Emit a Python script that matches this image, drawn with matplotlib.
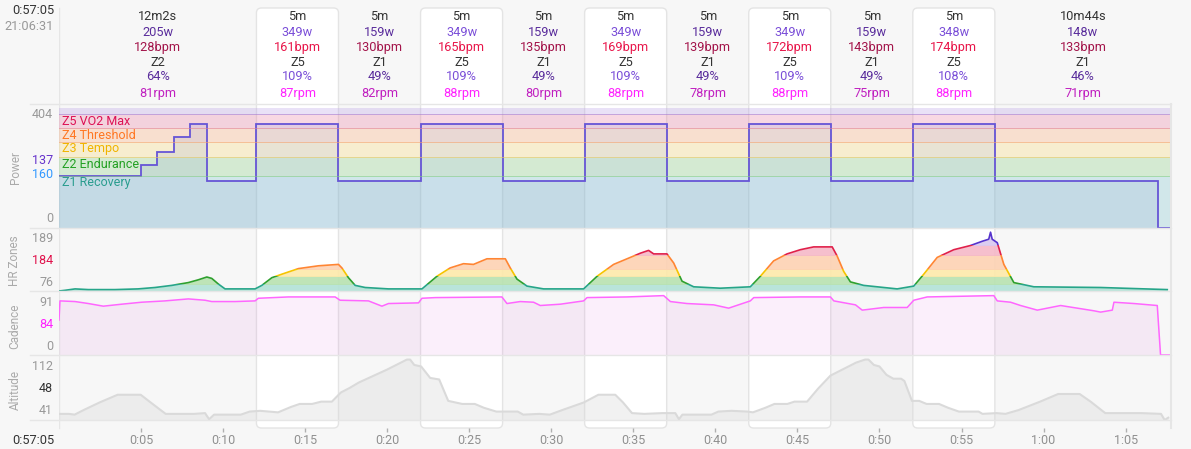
import matplotlib.pyplot as plt
import numpy as np
from matplotlib.patches import FancyBboxPatch, Rectangle
from matplotlib.lines import Line2D
from matplotlib.transforms import blended_transform_factory

plt.rcParams['font.family'] = ['Roboto', 'DejaVu Sans']

# interval summary (top text rows), times in minutes
seg_edges = [0, 12.033, 17.033, 22.033, 27.033, 32.033, 37.033, 42.033, 47.033, 52.033, 57.033, 67.767]
is_work = [False, True, False, True, False, True, False, True, False, True, False]
durations = ['12m2s', '5m', '5m', '5m', '5m', '5m', '5m', '5m', '5m', '5m', '10m44s']
avg_watts = [205, 349, 159, 349, 159, 349, 159, 349, 159, 348, 148]
avg_bpm = [128, 161, 130, 165, 135, 169, 139, 172, 143, 174, 133]
zone_names = ['Z2', 'Z5', 'Z1', 'Z5', 'Z1', 'Z5', 'Z1', 'Z5', 'Z1', 'Z5', 'Z1']
ftp_pct = [64, 109, 49, 109, 49, 109, 49, 109, 49, 108, 46]
avg_rpm = [81, 87, 82, 88, 80, 88, 78, 88, 75, 88, 71]

# power (watts), step levels between edges
power_edges = [0, 5, 6, 7, 8, 9, 12.033, 17.033, 22.033, 27.033, 32.033, 37.033,
               42.033, 47.033, 52.033, 57.033, 66.95, 67.767]
power_levels = [175, 212, 257, 307, 350, 159, 350, 159, 350, 159, 350, 159, 350, 159, 350, 158, 0]
power_zone_edges = [0, 176, 240, 288, 336, 384, 404]
power_zone_labels = ['Z1 Recovery', 'Z2 Endurance', 'Z3 Tempo', 'Z4 Threshold', 'Z5 VO2 Max']

# heart rate (bpm)
hr_t = [0.0, 0.37, 0.98, 1.79, 3.41, 4.82, 5.85, 6.87, 7.88, 8.49, 9.01, 9.31, 9.71, 10.12,
        11.95, 12.36, 12.97, 13.58, 14.59, 15.81, 17.03, 17.24, 17.64, 18.05, 18.66, 20.08,
        22.12, 23.03, 23.84, 24.65, 25.26, 26.08, 27.2, 27.5, 27.91, 28.52, 29.53,
        31.97, 32.79, 33.8, 34.82, 35.43, 35.93, 36.24, 37.05, 37.46, 37.97, 38.68, 40.3,
        42.13, 42.74, 43.55, 44.37, 45.18, 45.99, 47.12, 47.42, 47.82, 48.23, 49.04, 51.08,
        52.09, 52.7, 53.52, 54.53, 55.55, 56.26, 56.66, 56.77, 56.87, 57.18, 57.58, 58.19,
        59.41, 63.48, 67.54]
hr_bpm = [100, 101, 103, 102, 102, 103, 105, 108, 112, 116, 120, 118, 110, 103,
          103, 108, 119, 124, 132, 136, 138, 133, 119, 108, 105, 103,
          103, 121, 133, 139, 138, 146, 146, 133, 117, 107, 103,
          103, 121, 138, 148, 154, 158, 153, 153, 140, 114, 106, 104,
          106, 121, 143, 153, 159, 163, 163, 150, 128, 113, 108, 103,
          107, 124, 148, 159, 165, 171, 174, 184, 174, 169, 138, 112,
          106, 105, 102]
hr_zone_edges = [100, 110, 122, 131, 152, 166, 190]

# cadence (rpm)
cad_t = [0.0, 0.06, 0.98, 1.79, 2.7, 3.82, 5.04, 6.46, 7.88, 8.9, 9.31, 10.73, 11.95, 12.15,
         13.98, 16.83, 17.13, 18.86, 19.68, 20.08, 21.91, 22.12, 22.93, 26.99, 27.3, 28.11,
         28.92, 29.33, 30.55, 31.97, 32.18, 34.62, 36.85, 37.26, 38.27, 39.9, 40.81, 42.13,
         42.34, 45.18, 47.01, 47.22, 48.54, 48.95, 50.26, 51.69, 52.09, 52.91, 56.97, 57.18,
         57.99, 58.6, 59.62, 61.04, 63.07, 63.48, 64.19, 64.29, 65.51, 66.93, 67.13, 67.74]
cad_rpm = [53, 82, 81, 78, 74, 77, 80, 82, 85, 83, 81, 81, 82, 86,
           88, 88, 83, 82, 74, 78, 79, 86, 87, 88, 78, 81,
           80, 75, 77, 82, 87, 88, 90, 81, 78, 76, 71, 82,
           87, 88, 88, 82, 76, 68, 72, 72, 83, 88, 90, 82,
           80, 75, 68, 75, 67, 65, 68, 80, 78, 75, 0, 0]

# altitude (m)
alt_t = [0.0, 0.61, 0.95, 1.5, 2.48, 3.57, 4.98, 5.52, 6.07, 6.5, 8.23, 8.9, 9.15, 9.45,
         11.08, 11.62, 12.26, 13.35, 14.13, 14.67, 15.43, 15.98, 16.63, 17.18, 17.72, 18.27,
         20.0, 21.2, 21.4, 21.65, 22.07, 22.62, 23.17, 23.72, 24.57, 25.34, 25.89, 26.65,
         27.96, 28.29, 29.27, 29.91, 30.67, 31.99, 32.87, 33.9, 34.37, 34.92, 35.67, 36.77,
         37.56, 37.78, 37.99, 39.76, 40.18, 40.98, 41.95, 42.29, 43.05, 43.6, 44.39, 44.82,
         45.59, 46.26, 47.01, 48.57, 49.12, 49.33, 49.66, 50.0, 50.43, 50.85, 51.32, 51.52,
         51.98, 52.42, 52.87, 53.63, 54.18, 54.84, 56.04, 56.28, 57.13, 57.68, 58.48, 59.79,
         60.89, 62.2, 62.87, 63.76, 65.96, 67.16, 67.38, 67.6]
alt_m = [41, 41, 40, 46, 56, 66, 66, 57, 48, 41, 41, 42, 34, 40,
         40, 44, 45, 43, 50, 54, 54, 57, 57, 69, 75, 82,
         99, 112, 112, 105, 103, 88, 86, 58, 54, 54, 49, 44,
         44, 40, 41, 40, 46, 56, 66, 66, 56, 42, 41, 42,
         42, 34, 40, 40, 44, 45, 44, 43, 49, 54, 54, 57,
         57, 74, 91, 108, 112, 112, 105, 103, 92, 87, 87, 84,
         58, 58, 54, 54, 49, 44, 44, 41, 42, 41, 46, 57,
         67, 67, 57, 42, 42, 41, 33, 36]

xtick_min = [5, 10, 15, 20, 25, 30, 35, 40, 45, 50, 55, 60, 65]
xtick_labels = ['0:05', '0:10', '0:15', '0:20', '0:25', '0:30', '0:35', '0:40',
                '0:45', '0:50', '0:55', '1:00', '1:05']

W, H = 1191, 449
LEFT, RIGHT = 59, 1171
t_max = seg_edges[-1]
px_per_min = (RIGHT - LEFT) / t_max


def fx(px):
    return px / W


def fy(py):
    return 1 - py / H


fig = plt.figure(figsize=(W / 100, H / 100), dpi=100)
fig.patch.set_facecolor('#f7f7f7')

# background layer: white boxes for work intervals
bg = fig.add_axes([fx(LEFT), 0, fx(RIGHT) - fx(LEFT), 1])
bg.set_xlim(0, t_max)
bg.set_ylim(H, 0)
bg.axis('off')
for i, work in enumerate(is_work):
    if work:
        x0, x1 = seg_edges[i], seg_edges[i + 1]
        box = FancyBboxPatch((x0, 8), x1 - x0, 420, boxstyle='round,pad=0,rounding_size=0.3',
                             mutation_aspect=px_per_min, facecolor='white',
                             edgecolor='#e4e4e4', lw=1, clip_on=False)
        bg.add_patch(box)
bg.plot([0, 0], [8, 428], color='#e6e6e6', lw=1)

for py in [104, 228, 291, 355, 420]:
    fig.add_artist(Line2D([fx(30), fx(RIGHT)], [fy(py), fy(py)], color='#e6e6e6', lw=1))
fig.add_artist(Line2D([fx(RIGHT), fx(RIGHT)], [fy(104), fy(428)], color='#e6e6e6', lw=1.5))


def panel(top, bottom):
    ax = fig.add_axes([fx(LEFT), fy(bottom), fx(RIGHT) - fx(LEFT), (bottom - top) / H])
    ax.set_facecolor('none')
    ax.set_xlim(0, t_max)
    for s in ax.spines.values():
        s.set_visible(False)
    ax.set_xticks([])
    ax.set_yticks([])
    return ax


# ---- power ----
ax_p = panel(108, 228)
ax_p.set_ylim(0, power_zone_edges[-1])
band_colors = ['#7cc5cc', '#86cf7f', '#f7d675', '#fbaa75', '#ea7fa4', '#b89de6']
line_colors = ['#7cc5cc', '#86cf7f', '#f0c860', '#f5a070', '#e08098', '#a080d8']
for i, c in enumerate(band_colors):
    ax_p.axhspan(power_zone_edges[i], power_zone_edges[i + 1], color=c, alpha=0.3, lw=0)
    if i > 0:
        ax_p.axhline(power_zone_edges[i], color=line_colors[i], lw=0.7, alpha=0.6)
ax_p.stairs(power_levels, power_edges, baseline=0, fill=True, color='#7b91cf', alpha=0.15, lw=0)
ax_p.stairs(power_levels, power_edges, baseline=None, color='#6655d6', lw=1.3)

zone_text_colors = ['#2a9d8f', '#22a022', '#f0b400', '#ff7722', '#dd1155']
zone_text_y = [152, 215, 266, 313, 360]
for lab, c, y in zip(power_zone_labels, zone_text_colors, zone_text_y):
    ax_p.text(0.18, y, lab, color=c, fontsize=9, va='center', ha='left')

# ---- heart rate ----
ax_h = panel(228, 291)
ax_h.set_ylim(hr_zone_edges[0], hr_zone_edges[-1])
hr_fill = ['#b2e2d6', '#b8e2b0', '#fde9aa', '#fdd2b3', '#f5b8c8', '#d8c8f0']
hr_line = ['#26a589', '#2ea02e', '#f5c400', '#ff8533', '#e0204a', '#5533cc']
for i in range(len(hr_fill)):
    lo, hi = hr_zone_edges[i], hr_zone_edges[i + 1]
    clip = Rectangle((0, lo), t_max, hi - lo, transform=ax_h.transData)
    f = ax_h.fill_between(hr_t, hr_zone_edges[0], hr_bpm, color=hr_fill[i], lw=0, alpha=0.9)
    f.set_clip_path(clip)
    ln, = ax_h.plot(hr_t, hr_bpm, color=hr_line[i], lw=1.2)
    ln.set_clip_path(clip)

# ---- cadence ----
ax_c = panel(291, 355)
ax_c.set_ylim(0, 97)
ax_c.fill_between(cad_t, 0, cad_rpm, color='#e080e0', alpha=0.12, lw=0)
ax_c.plot(cad_t, cad_rpm, color='#ff66ff', lw=1.1)

# ---- altitude ----
ax_a = panel(355, 420)
ax_a.set_ylim(33, 118)
ax_a.fill_between(alt_t, 33, alt_m, color='#d8d8d8', alpha=0.35, lw=0)
ax_a.plot(alt_t, alt_m, color='#dadada', lw=1.5)
ax_a.set_xticks(xtick_min)
ax_a.set_xticklabels(xtick_labels)
ax_a.spines['bottom'].set_position(('outward', 5.8))
ax_a.tick_params(axis='x', length=3, width=1, color='#b0b0b0', labelcolor='#909090',
                 labelsize=9, pad=1.5)

# ---- top summary rows ----
trans = blended_transform_factory(ax_p.transData, fig.transFigure)
row_y = [17, 32, 47, 62, 77, 93]
for i in range(len(durations)):
    xc = (seg_edges[i] + seg_edges[i + 1]) / 2
    w = is_work[i]
    cols = ['#333333',
            '#7b4fd8' if w else '#5a2d9c',
            '#e8164a' if w else '#a3144a',
            '#333333',
            '#7b4fd8' if w else '#5a2d9c',
            '#ff22ff' if w else '#c020c0']
    texts = [durations[i], f'{avg_watts[i]}w', f'{avg_bpm[i]}bpm', zone_names[i],
             f'{ftp_pct[i]}%', f'{avg_rpm[i]}rpm']
    for s, c, py in zip(texts, cols, row_y):
        fig.text(xc, fy(py), s, transform=trans, color=c, fontsize=9.2, ha='center', va='center')

# ---- left side labels ----
fig.text(fx(54), fy(11), '0:57:05', color='#333333', fontsize=9.2, ha='right', va='center')
fig.text(fx(54), fy(26), '21:06:31', color='#999999', fontsize=9.2, ha='right', va='center')
fig.text(fx(33), fy(440), '0:57:05', color='#333333', fontsize=9.2, ha='center', va='center')

side = [('Power', 168), ('HR Zones', 261), ('Cadence', 326), ('Altitude', 390)]
for s, py in side:
    fig.text(fx(15), fy(py), s, color='#aaaaaa', fontsize=8.5, rotation=90, ha='center', va='center')

side_vals = [('404', 115, '#999999'), ('137', 160, '#6633cc'), ('160', 174, '#3399ff'),
             ('0', 218, '#999999'), ('189', 239, '#999999'), ('184', 261, '#e0104a'),
             ('76', 282, '#999999'), ('91', 303, '#999999'), ('84', 324, '#ff22ff'),
             ('0', 346, '#999999'), ('112', 367, '#999999'), ('48', 389, '#333333'),
             ('41', 410, '#999999')]
for s, py, c in side_vals:
    fig.text(fx(53), fy(py), s, color=c, fontsize=9, ha='right', va='center')

fig.savefig('out.png', dpi=100, facecolor=fig.get_facecolor())
